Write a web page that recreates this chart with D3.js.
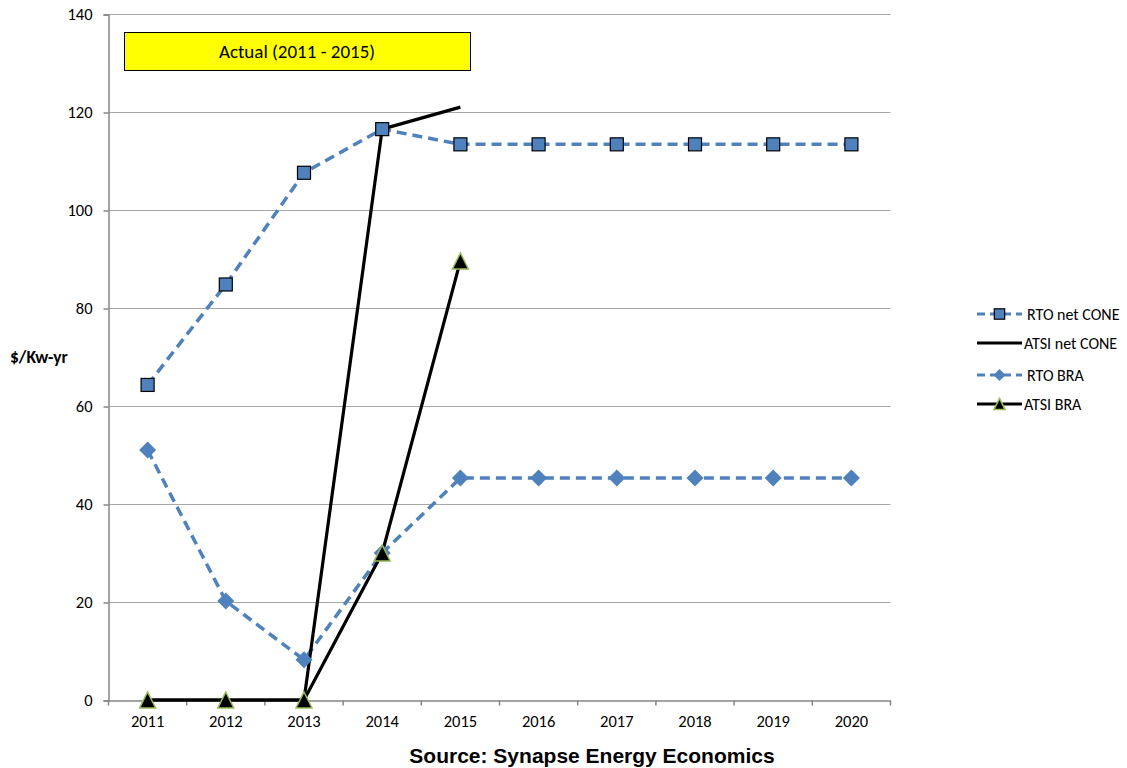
<!DOCTYPE html>
<html>
<head>
<meta charset="utf-8">
<script src="https://cdn.jsdelivr.net/npm/d3@7"></script>
<style>
  html, body { margin: 0; padding: 0; background: #fff; }
  svg { display: block; }
</style>
</head>
<body>
<svg id="chart" width="1127" height="768"></svg>
<script>
// Years on the category axis
const years = ["2011", "2012", "2013", "2014", "2015", "2016", "2017", "2018", "2019", "2020"];
// $/kW-yr values per series (null = no value)
const rtoNetCone  = [64.3, 84.8, 107.6, 116.5, 113.4, 113.4, 113.4, 113.4, 113.4, 113.4];
const atsiNetCone = [0, 0, 0, 116.5, 121.0, null, null, null, null, null];
const rtoBra      = [51.0, 20.2, 8.2, 30.0, 45.3, 45.3, 45.3, 45.3, 45.3, 45.3];
const atsiBra     = [0, 0, 0, 30.0, 89.6, null, null, null, null, null];
const yTicks = [0, 20, 40, 60, 80, 100, 120, 140];

(function () {
const font = "Carlito, 'Open Sans', 'Liberation Sans', sans-serif";
const blue = "#4F81BD";
const svg = d3.select("#chart");

const plotL = 108.5, plotR = 890.5, plotT = 14, plotB = 700;
const x = d3.scaleBand().domain(years).range([plotL, plotR]);
const y = d3.scaleLinear().domain([0, 140]).range([plotB, plotT]);
const cx = d => x(d) + x.bandwidth() / 2;

// horizontal gridlines
svg.append("g").selectAll("line").data(yTicks.filter(t => t > 0)).join("line")
  .attr("x1", plotL).attr("x2", plotR)
  .attr("y1", d => Math.round(y(d)) + 0.5).attr("y2", d => Math.round(y(d)) + 0.5)
  .attr("stroke", "#A6A6A6").attr("stroke-width", 1);

// y axis
const yAxis = svg.append("g").attr("transform", `translate(${plotL},0.5)`)
  .call(d3.axisLeft(y).tickValues(yTicks).tickSize(5).tickPadding(11));
yAxis.select(".domain").attr("stroke", "#868686").attr("stroke-width", 1.5);
yAxis.selectAll(".tick line").attr("stroke", "#868686").attr("stroke-width", 1.5);
yAxis.selectAll("text").attr("font-family", font).attr("font-size", 16.5).attr("fill", "#000");

// x axis with ticks on category boundaries
const xAxis = svg.append("g").attr("transform", `translate(0,${plotB + 0.5})`)
  .call(d3.axisBottom(x).tickSize(0).tickPadding(15));
xAxis.select(".domain").attr("stroke", "#868686").attr("stroke-width", 1.5);
xAxis.selectAll("text").attr("font-family", font).attr("font-size", 16.5).attr("fill", "#000");
xAxis.selectAll(".bound").data(years.map(d => x(d)).concat([plotR])).join("line")
  .attr("class", "bound")
  .attr("x1", d => d).attr("x2", d => d).attr("y1", 0).attr("y2", 5)
  .attr("stroke", "#868686").attr("stroke-width", 1.5);

// y axis title
svg.append("text").attr("x", 10).attr("y", 363)
  .attr("font-family", font).attr("font-size", 17.5).attr("font-weight", "bold")
  .text("$/Kw-yr");

// annotation box
svg.append("rect").attr("x", 124.5).attr("y", 32.5).attr("width", 346).attr("height", 38)
  .attr("fill", "#FFFF00").attr("stroke", "#000").attr("stroke-width", 1);
svg.append("text").attr("x", 297).attr("y", 58).attr("text-anchor", "middle")
  .attr("font-family", font).attr("font-size", 19).text("Actual (2011 - 2015)");

// series lines
const line = d3.line().defined(d => d.v !== null).x(d => cx(d.k)).y(d => y(d.v));
const pts = arr => years.map((k, i) => ({ k, v: arr[i] }));

const series = [
  { name: "RTO net CONE", data: rtoNetCone, color: blue, dash: "10,6", width: 3.5, marker: "square" },
  { name: "ATSI net CONE", data: atsiNetCone, color: "#000", dash: null, width: 3.2, marker: null },
  { name: "RTO BRA", data: rtoBra, color: blue, dash: "10,6", width: 3.5, marker: "diamond" },
  { name: "ATSI BRA", data: atsiBra, color: "#000", dash: null, width: 3.2, marker: "triangle" }
];

function drawMarker(g, type, px, py, scale = 1) {
  if (type === "square") {
    const s = 13 * scale;
    g.append("rect").attr("x", px - s / 2).attr("y", py - s / 2).attr("width", s).attr("height", s)
      .attr("fill", blue).attr("stroke", "#000").attr("stroke-width", 1.2);
  } else if (type === "diamond") {
    const s = 8.5 * scale;
    g.append("path").attr("d", `M${px},${py - s}L${px + s},${py}L${px},${py + s}L${px - s},${py}Z`)
      .attr("fill", blue);
  } else if (type === "triangle") {
    const s = 8 * scale;
    g.append("path").attr("d", `M${px},${py - s}L${px + s},${py + s}L${px - s},${py + s}Z`)
      .attr("fill", "#000").attr("stroke", "#9BBB59").attr("stroke-width", 1.5).attr("stroke-linejoin", "miter");
  }
}

const order = [series[2], series[0], series[1], series[3]];
order.forEach(s => {
  svg.append("path").datum(pts(s.data)).attr("d", line)
    .attr("fill", "none").attr("stroke", s.color).attr("stroke-width", s.width)
    .attr("stroke-dasharray", s.dash).attr("stroke-linejoin", "round");
});
order.forEach(s => {
  if (!s.marker) return;
  const g = svg.append("g");
  pts(s.data).filter(d => d.v !== null).forEach(d => drawMarker(g, s.marker, cx(d.k), y(d.v)));
});

// legend
const legRows = [314, 343, 375, 404];
series.forEach((s, i) => {
  const ly = legRows[i];
  const g = svg.append("g");
  g.append("line").attr("x1", 977).attr("x2", 1022).attr("y1", ly).attr("y2", ly)
    .attr("stroke", s.color).attr("stroke-width", 3.2).attr("stroke-dasharray", s.dash ? "8,5" : null);
  if (s.marker) drawMarker(g, s.marker, 999.5, ly, s.marker === "square" ? 0.8 : 0.7);
  g.append("text").attr("x", s.dash ? 1027 : 1024).attr("y", ly + 6)
    .attr("font-family", font).attr("font-size", 16).text(s.name);
});

// source note
svg.append("text").attr("x", 592).attr("y", 763).attr("text-anchor", "middle")
  .attr("font-family", "'Liberation Sans', Arial, sans-serif").attr("font-size", 21).attr("font-weight", "bold")
  .text("Source: Synapse Energy Economics");
})();
</script>
</body>
</html>
